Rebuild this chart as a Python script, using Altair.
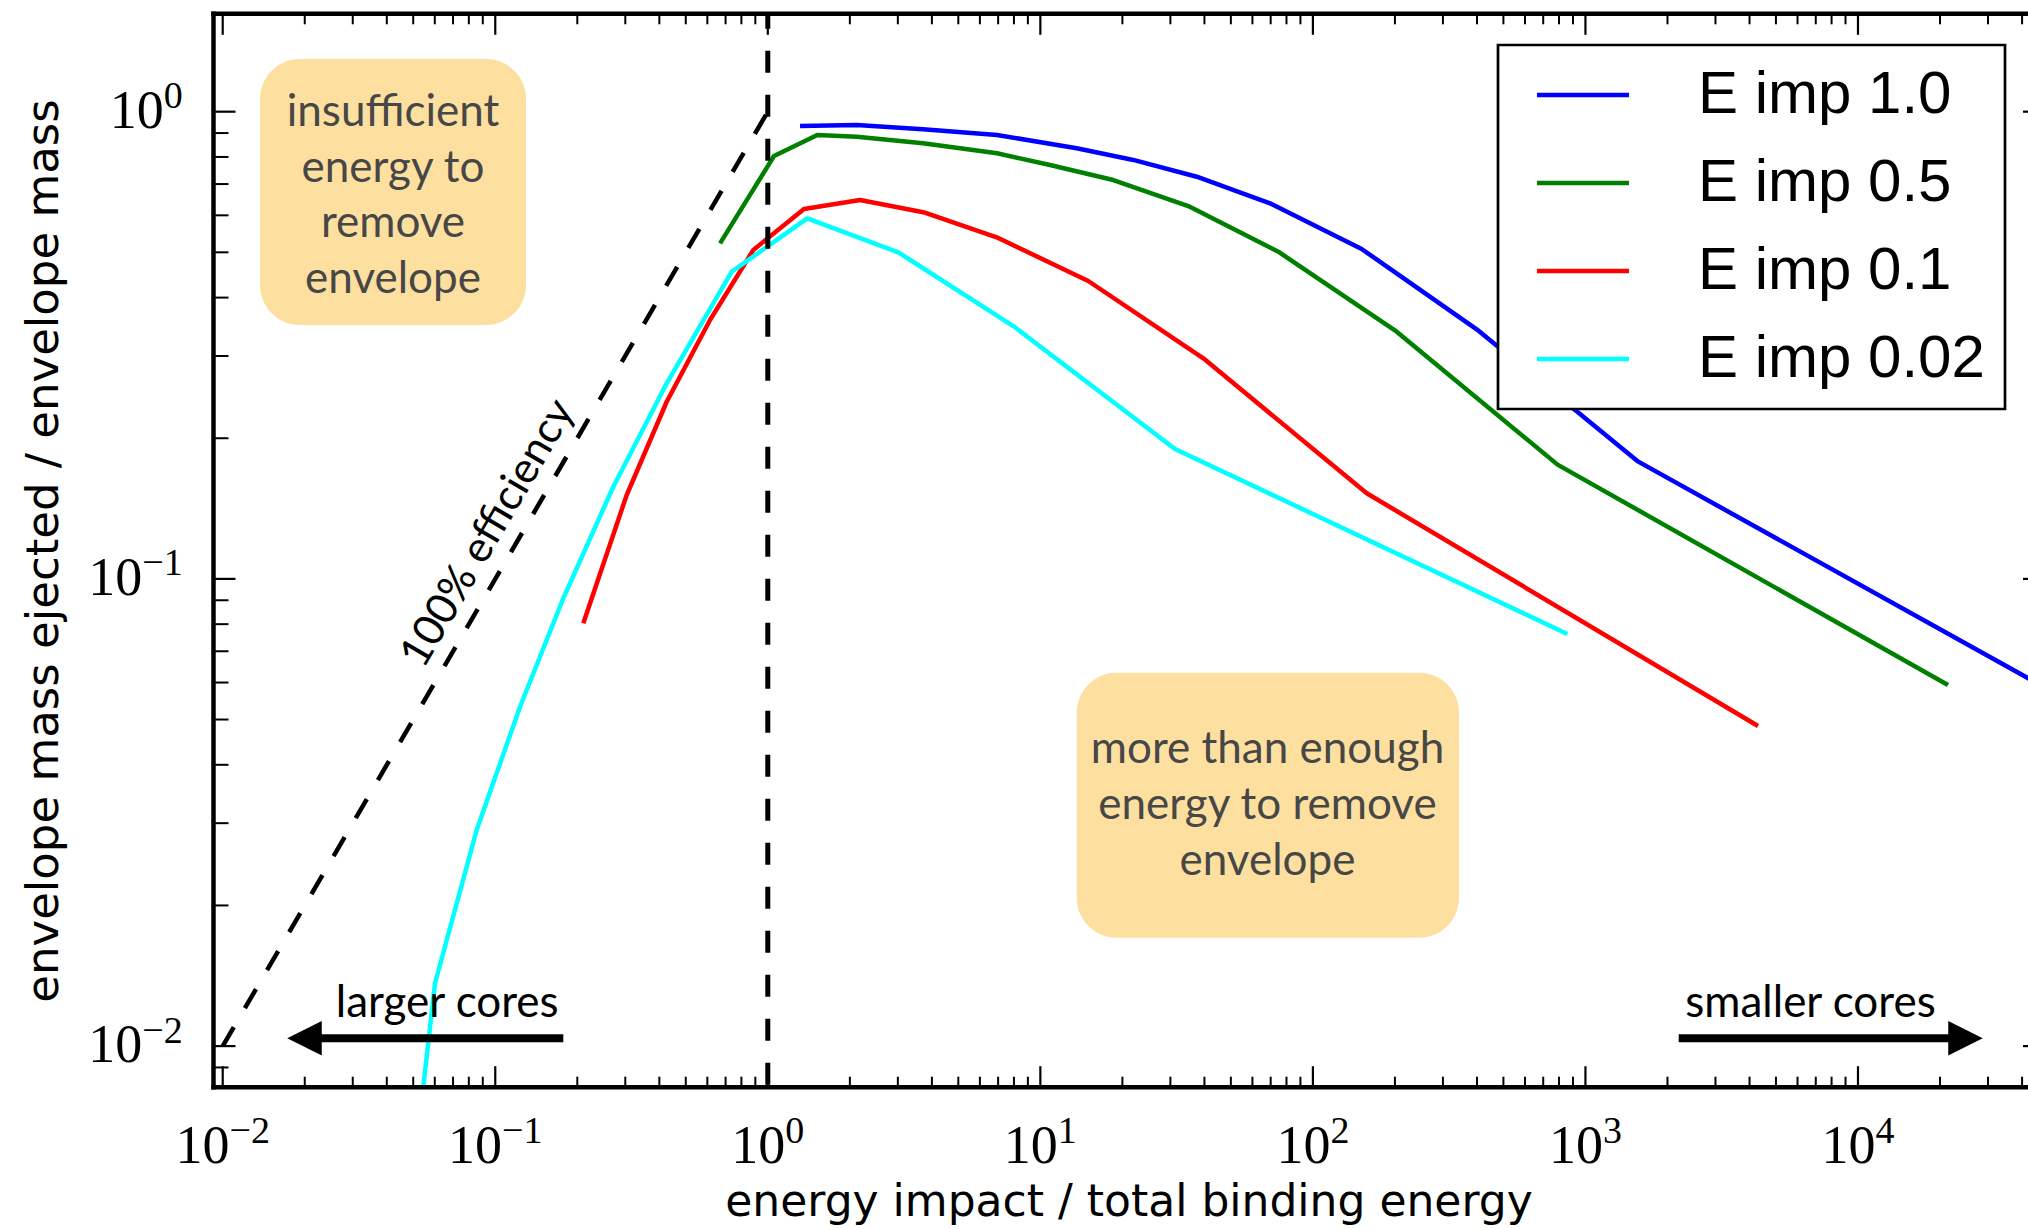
import altair as alt
import pandas as pd

# ---------------- data ----------------
series_names = ["E imp 1.0", "E imp 0.5", "E imp 0.1", "E imp 0.02"]
series_colors = ["#0000ff", "#008000", "#ff0000", "#00ffff"]

blue_x = [1.313, 2.120, 3.710, 6.934, 13.60, 21.93, 37.47, 69.60, 151.0, 399.0, 1563.0, 48130.0]
blue_y = [0.932, 0.9366, 0.917, 0.8917, 0.8349, 0.7883, 0.7257, 0.6366, 0.5083, 0.3421, 0.1782, 0.0587]

green_x = [0.6679, 1.0538, 1.5192, 2.120, 3.710, 6.934, 10.85, 18.52, 34.90, 74.66, 203.0, 789.8, 21390.0]
green_y = [0.5227, 0.8038, 0.8917, 0.8841, 0.8558, 0.8145, 0.769, 0.714, 0.6282, 0.5016, 0.3381, 0.1756, 0.05927]

red_x = [0.2104, 0.3036, 0.4257, 0.6137, 0.8847, 1.3578, 2.1795, 3.720, 6.917, 14.99, 39.62, 157.6, 4297.0]
red_y = [0.08035, 0.1512, 0.2394, 0.3582, 0.5058, 0.619, 0.6471, 0.6092, 0.5384, 0.4341, 0.2966, 0.1525, 0.04843]

cyan_x = [0.05224, 0.06011, 0.08546, 0.1233, 0.1777, 0.2711, 0.4257, 0.7373, 1.3961, 3.0113, 7.958, 31.19, 858.0]
cyan_y = [0.006614, 0.01363, 0.02901, 0.05325, 0.09088, 0.1575, 0.2622, 0.4545, 0.591, 0.5001, 0.3477, 0.1897, 0.07621]

eff_x = [0.01, 1.0]
eff_y = [0.01, 1.0]
threshold_x = [1.0]

box_x1 = [0.0137, 13.60]
box_x2 = [0.1297, 343.7]
box_y1 = [1.2966, 0.0630]
box_y2 = [0.3495, 0.01706]
box_labels = ["insufficient\nenergy to\nremove\nenvelope",
              "more than enough\nenergy to remove\nenvelope"]
box_label_x = [0.04215, 68.14]
box_label_y = [0.9319, 0.04026]

eff_label = ["100% efficiency"]
eff_label_x = [0.09406]
eff_label_y = [0.1251]

arrow_head_x = [0.019957, 24800.0]
arrow_tail_x = [0.1777, 2199.0]
arrow_y = [0.010392, 0.010392]
arrow_dir = ["left", "right"]
arrow_labels = ["larger cores", "smaller cores"]
arrow_label_x = [0.06662, 6694.0]
arrow_label_y = [0.011557, 0.011557]

tick_base = "10"
x_major = [0.01, 0.1, 1, 10, 100, 1000, 10000]
x_exponents = ["−2", "−1", "0", "1", "2", "3", "4"]
y_major = [0.01, 0.1, 1]
y_exponents = ["−2", "−1", "0"]

x_domain = [10 ** -2.0338, 10 ** 4.6238]
y_domain = [10 ** -2.088, 10 ** 0.2095]

x_title = "energy impact / total binding energy"
y_title = "envelope mass ejected / envelope mass"

# ---------------- layout ----------------
W = 1814.5
H = 1073.4
BASE_FS = 54
EXP_FS = 38
EXP_RAISE = 19.4

x_minor = [k * 10.0 ** d for d in range(-3, 5) for k in range(2, 10)]
x_minor = [v for v in x_minor if x_domain[0] < v < x_domain[1]]
y_minor = [k * 10.0 ** d for d in range(-3, 1) for k in range(2, 10)]
y_minor = [v for v in y_minor if y_domain[0] < v < y_domain[1]]

xs = alt.Scale(type="log", domain=x_domain, nice=False)
ys = alt.Scale(type="log", domain=y_domain, nice=False)

x_axis = alt.Axis(
    values=x_major, labels=False, title=x_title, grid=False, ticks=False, tickSize=0,
    domain=False, titleFont="DejaVu Sans", titleFontSize=44, titleFontWeight="normal",
    titleColor="black", titleX=915, titleY=127.8, titleBaseline="alphabetic",
    titleAlign="center")
y_axis = alt.Axis(
    values=y_major, labels=False, title=y_title, grid=False, ticks=False, tickSize=0,
    domain=False, titleFont="DejaVu Sans", titleFontSize=45, titleFontWeight="normal",
    titleColor="black", titleX=-156.5, titleY=536.7, titleAngle=270,
    titleBaseline="alphabetic", titleAlign="center")


def X(field="x"):
    return alt.X(f"{field}:Q", scale=xs, axis=x_axis)


def Y(field="y"):
    return alt.Y(f"{field}:Q", scale=ys, axis=y_axis)


rows = []
for name, sx, sy in zip(series_names, [blue_x, green_x, red_x, cyan_x], [blue_y, green_y, red_y, cyan_y]):
    for i, (a, b) in enumerate(zip(sx, sy)):
        rows.append({"series": name, "x": a, "y": b, "i": i})
lines_df = pd.DataFrame(rows)

box_df = pd.DataFrame({"x": box_x1, "x2": box_x2, "y": box_y1, "y2": box_y2})
boxes = alt.Chart(box_df).mark_rect(cornerRadius=40, color="#fddf9f").encode(
    x=X(), x2="x2:Q", y=Y(), y2="y2:Q")

box_text_df = pd.DataFrame({"x": box_label_x, "y": box_label_y, "t": box_labels})
box_text = alt.Chart(box_text_df).mark_text(
    font="Lato", fontSize=44, color="#474747", align="center", baseline="alphabetic",
    lineBreak="\n", lineHeight=55.7).encode(x=X(), y=Y(), text="t:N")

lines = alt.Chart(lines_df).mark_line(strokeWidth=4.5, clip=True, strokeJoin="round").encode(
    x=X(), y=Y(),
    color=alt.Color("series:N", scale=alt.Scale(domain=series_names, range=series_colors),
                    legend=alt.Legend(
                        title=None, orient="none", legendX=1284.5, legendY=31.2,
                        symbolType="M-1.673,0H1.673", symbolSize=3025, symbolStrokeWidth=4.5,
                        labelFont="Liberation Sans", labelFontSize=60, labelColor="black",
                        labelOffset=85, symbolOffset=35, rowPadding=28, padding=20,
                        labelExpr="datum.label + '\u2009'",
                        strokeColor="black", fillColor="white", cornerRadius=0, labelLimit=0)),
    order="i:Q",
)

eff_df = pd.DataFrame({"x": eff_x, "y": eff_y})
eff_line = alt.Chart(eff_df).mark_line(color="black", strokeWidth=4.5, strokeDash=[22, 22]).encode(
    x=X(), y=Y())

thr_df = pd.DataFrame({"x": threshold_x})
thr_rule = alt.Chart(thr_df).mark_rule(color="black", strokeWidth=5, strokeDash=[22, 22],
                                       strokeDashOffset=7).encode(x=X())

eff_text_df = pd.DataFrame({"x": eff_label_x, "y": eff_label_y, "t": eff_label})
eff_text = alt.Chart(eff_text_df).mark_text(
    font="Lato", fontSize=43, angle=300.3, align="center", baseline="middle", color="black"
).encode(x=X(), y=Y(), text="t:N")

arrow_df = pd.DataFrame({"x": arrow_head_x, "x2": arrow_tail_x, "y": arrow_y, "dir": arrow_dir})
shafts = alt.Chart(arrow_df).mark_rule(strokeWidth=8, color="black").encode(
    x=X(), x2="x2:Q", y=Y())
heads = alt.Chart(arrow_df).mark_point(filled=True, size=1190, opacity=1, color="black",
                                       strokeWidth=0).encode(
    x=X(), y=Y(),
    shape=alt.Shape("dir:N", scale=alt.Scale(domain=["left", "right"],
                                             range=["M1,-1L-1,0L1,1Z", "M-1,-1L1,0L-1,1Z"]),
                    legend=None))

arrow_text_df = pd.DataFrame({"x": arrow_label_x, "y": arrow_label_y, "t": arrow_labels})
arrow_text = alt.Chart(arrow_text_df).mark_text(
    font="Lato", fontSize=44, align="center", baseline="alphabetic", color="black"
).encode(x=X(), y=Y(), text="t:N")


# ---------------- tick labels: "10" with a real superscript ----------------
def exp_width(s):
    return sum(0.564 if ch == "−" else 0.5 for ch in s) * EXP_FS


BASE_W = 0.5 * len(tick_base) * BASE_FS
label_layers = []
for v, e in zip(x_major, x_exponents):
    d = (BASE_W - exp_width(e)) / 2
    df = pd.DataFrame({"x": [v]})
    label_layers.append(alt.Chart(df).mark_text(
        text=tick_base, font="Liberation Serif", fontSize=BASE_FS, align="right",
        baseline="alphabetic", dx=d, color="black").encode(x=X(), y=alt.value(H + 75.5)))
    label_layers.append(alt.Chart(df).mark_text(
        text=e, font="Liberation Serif", fontSize=EXP_FS, align="left",
        baseline="alphabetic", dx=d, color="black").encode(
        x=X(), y=alt.value(H + 75.5 - EXP_RAISE)))
for v, e in zip(y_major, y_exponents):
    we = exp_width(e)
    df = pd.DataFrame({"y": [v]})
    label_layers.append(alt.Chart(df).mark_text(
        text=tick_base, font="Liberation Serif", fontSize=BASE_FS, align="right",
        baseline="alphabetic", dy=16, color="black").encode(
        y=Y(), x=alt.value(-30.8 - we)))
    label_layers.append(alt.Chart(df).mark_text(
        text=e, font="Liberation Serif", fontSize=EXP_FS, align="right",
        baseline="alphabetic", dy=16 - EXP_RAISE, color="black").encode(
        y=Y(), x=alt.value(-30.8)))

# ---------------- ticks (inward) and spines ----------------
xmaj_df = pd.DataFrame({"x": x_major})
xmin_df = pd.DataFrame({"x": x_minor})
ymaj_df = pd.DataFrame({"y": y_major})
ymin_df = pd.DataFrame({"y": y_minor})

tick_layers = [
    alt.Chart(xmaj_df).mark_rule(color="black", strokeWidth=2.2).encode(
        x=X(), y=alt.value(H), y2=alt.value(H - 21)),
    alt.Chart(xmin_df).mark_rule(color="black", strokeWidth=2).encode(
        x=X(), y=alt.value(H), y2=alt.value(H - 10.5)),
    alt.Chart(xmaj_df).mark_rule(color="black", strokeWidth=2.2).encode(
        x=X(), y=alt.value(0), y2=alt.value(21)),
    alt.Chart(xmin_df).mark_rule(color="black", strokeWidth=2).encode(
        x=X(), y=alt.value(0), y2=alt.value(10.5)),
    alt.Chart(ymaj_df).mark_rule(color="black", strokeWidth=2.2).encode(
        y=Y(), x=alt.value(0), x2=alt.value(22)),
    alt.Chart(ymin_df).mark_rule(color="black", strokeWidth=2).encode(
        y=Y(), x=alt.value(0), x2=alt.value(15)),
    alt.Chart(ymaj_df).mark_rule(color="black", strokeWidth=2.2).encode(
        y=Y(), x=alt.value(W - 5), x2=alt.value(W)),
]

one = pd.DataFrame({"s": [0]})
spines = [
    alt.Chart(one).mark_rule(color="black", strokeWidth=4.5, strokeCap="square").encode(
        x=alt.value(0), x2=alt.value(W), y=alt.value(0)),
    alt.Chart(one).mark_rule(color="black", strokeWidth=4.5, strokeCap="square").encode(
        x=alt.value(0), x2=alt.value(W), y=alt.value(H)),
    alt.Chart(one).mark_rule(color="black", strokeWidth=4.5, strokeCap="square").encode(
        x=alt.value(0), y=alt.value(0), y2=alt.value(H)),
]

chart = alt.layer(
    boxes, box_text, lines, eff_line, thr_rule, eff_text, shafts, heads, arrow_text,
    *label_layers, *tick_layers, *spines
).properties(
    width=W, height=H,
    autosize=alt.AutoSizeParams(type="none"),
    padding={"left": 213.5, "top": 13.8, "right": 0, "bottom": 141.8},
).configure_view(strokeWidth=0).configure_legend(strokeWidth=2.7)

chart.save("out.html", embed_options={"renderer": "svg", "actions": False})
